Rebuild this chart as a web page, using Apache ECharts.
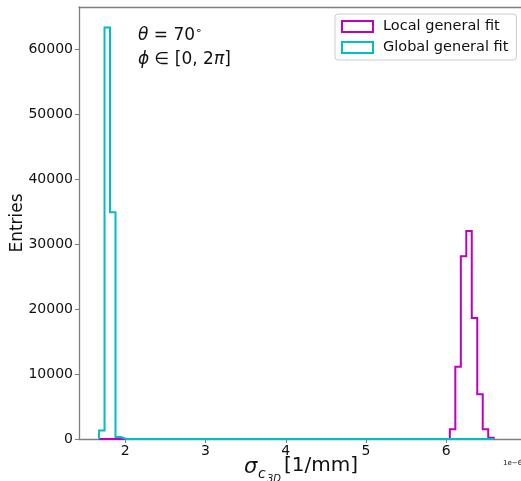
<!DOCTYPE html>
<html>
<head>
<meta charset="utf-8">
<script src="https://cdn.jsdelivr.net/npm/echarts@6/dist/echarts.min.js"></script>
<style>
  html, body { margin: 0; padding: 0; background: #ffffff; }
  #chart { width: 521px; height: 481px; }
</style>
</head>
<body>
<div id="chart"></div>
<script>
// Shared histogram binning (values in units of 1e-6 1/mm)
const binStart = 1.673;
const binWidth = 0.0683;

// Entries per bin, 72 bins
const localCounts = [
  0, 0, 0, 0, 0, 0, 0, 0, 0, 0, 0, 0, 0, 0, 0, 0, 0, 0, 0, 0, 0, 0, 0, 0,
  0, 0, 0, 0, 0, 0, 0, 0, 0, 0, 0, 0, 0, 0, 0, 0, 0, 0, 0, 0, 0, 0, 0, 0,
  0, 0, 0, 0, 0, 0, 0, 0, 0, 0, 0, 0, 0, 0, 0, 0,
  1500, 11100, 28100, 32000, 18600, 6900, 1500, 200
];
const globalCounts = [
  1300, 63300, 34900, 300, 0, 0, 0, 0, 0, 0, 0, 0, 0, 0, 0, 0, 0, 0, 0, 0, 0, 0, 0, 0,
  0, 0, 0, 0, 0, 0, 0, 0, 0, 0, 0, 0, 0, 0, 0, 0, 0, 0, 0, 0, 0, 0, 0, 0,
  0, 0, 0, 0, 0, 0, 0, 0, 0, 0, 0, 0, 0, 0, 0, 0,
  0, 0, 0, 0, 0, 0, 0, 0
];

const seriesNames = ['Local general fit', 'Global general fit'];
const seriesColors = ['#bf00bf', '#00bfbf'];

const xTicks = [2, 3, 4, 5, 6];
const yTicks = [0, 10000, 20000, 30000, 40000, 50000, 60000];

// Step outline of a histogram: up the left edge, across each bin, down the right edge
function stepOutline(counts) {
  const pts = [[binStart, 0]];
  counts.forEach((c, i) => {
    const x0 = binStart + i * binWidth;
    pts.push([x0, c], [x0 + binWidth, c]);
  });
  pts.push([binStart + counts.length * binWidth, 0]);
  return pts;
}

const FONT = 'DejaVu Sans';
const SPINE = '#808080';
const X_MIN = 1.4233, X_MAX = 6.9307;
const chart = echarts.init(document.getElementById('chart'), null, { renderer: 'canvas' });

chart.setOption({
  animation: false,
  backgroundColor: '#ffffff',
  grid: { left: 79, top: 7, width: 445, bottom: 42 },
  xAxis: [
    {
      type: 'value',
      min: X_MIN, max: X_MAX,
      splitLine: { show: false },
      axisLine: { show: true, onZero: false, lineStyle: { color: SPINE, width: 1.3 } },
      axisTick: { show: true, length: 4, customValues: xTicks, lineStyle: { color: SPINE } },
      axisLabel: {
        customValues: xTicks, color: '#111111', fontFamily: FONT, fontSize: 14, margin: 5,
        formatter: v => String(v)
      }
    },
    {
      // top spine only
      type: 'value', position: 'top',
      min: X_MIN, max: X_MAX,
      splitLine: { show: false },
      axisLine: { show: true, onZero: false, lineStyle: { color: SPINE, width: 1.3 } },
      axisTick: { show: false },
      axisLabel: { show: false }
    }
  ],
  yAxis: {
    type: 'value',
    min: 0, max: 66460,
    splitLine: { show: false },
    axisLine: { show: true, lineStyle: { color: SPINE, width: 1.3 } },
    axisTick: { show: true, length: 4, customValues: yTicks, lineStyle: { color: SPINE } },
    axisLabel: {
      customValues: yTicks, color: '#111111', fontFamily: FONT, fontSize: 14, margin: 6,
      formatter: v => String(v)
    }
  },
  legend: {
    left: 335, top: 14,
    orient: 'vertical',
    padding: [5, 8, 5, 6],
    itemGap: 6,
    itemWidth: 31, itemHeight: 11,
    itemTextGap: 10,
    borderColor: '#cccccc', borderWidth: 1, borderRadius: 3,
    backgroundColor: 'rgba(255,255,255,0.8)',
    textStyle: { fontFamily: FONT, fontSize: 14.5, color: '#111111', lineHeight: 15, padding: [0, 0, 0, 5] },
    data: seriesNames.map((n, i) => ({
      name: n,
      icon: 'rect',
      itemStyle: { color: 'rgba(0,0,0,0)', borderColor: seriesColors[i], borderWidth: 2 }
    }))
  },
  series: [localCounts, globalCounts].map((counts, i) => ({
    name: seriesNames[i],
    type: 'line',
    xAxisIndex: 0,
    data: stepOutline(counts),
    showSymbol: false,
    symbol: 'none',
    color: seriesColors[i],
    lineStyle: { color: seriesColors[i], width: 2, join: 'miter' },
    z: 2 + i
  })),
  graphic: [
    {
      type: 'text', left: 138, top: 26,
      style: {
        text: '{i|θ} = 70{s|∘}',
        fontFamily: FONT, fontSize: 17, fill: '#111111',
        rich: {
          i: { fontStyle: 'italic', fontFamily: FONT, fontSize: 17 },
          s: { fontFamily: FONT, fontSize: 11, verticalAlign: 'top', padding: [0, 0, 8, 0] }
        }
      }
    },
    {
      type: 'text', left: 138, top: 51,
      style: {
        text: '{i|ϕ} ∈ [0, 2{i|π}]',
        fontFamily: FONT, fontSize: 17, fill: '#111111',
        rich: { i: { fontStyle: 'italic', fontFamily: FONT, fontSize: 17 } }
      }
    },
    {
      type: 'text', x: 18, y: 223, rotation: Math.PI / 2,
      style: {
        text: 'Entries', fontFamily: FONT, fontSize: 17, fill: '#111111',
        align: 'center', verticalAlign: 'middle'
      }
    },
    {
      type: 'text', x: 244, y: 468,
      style: { text: 'σ', fontFamily: FONT, fontStyle: 'italic', fontSize: 21, fill: '#111111', align: 'left', verticalAlign: 'middle' }
    },
    {
      type: 'text', x: 258, y: 474,
      style: { text: 'c', fontFamily: FONT, fontStyle: 'italic', fontSize: 14, fill: '#111111', align: 'left', verticalAlign: 'middle' }
    },
    {
      type: 'text', x: 267, y: 479,
      style: { text: '3D', fontFamily: FONT, fontStyle: 'italic', fontSize: 10, fill: '#111111', align: 'left', verticalAlign: 'middle' }
    },
    {
      type: 'text', x: 284, y: 466,
      style: { text: '[1/mm]', fontFamily: FONT, fontSize: 20, fill: '#111111', align: 'left', verticalAlign: 'middle' }
    },
    {
      type: 'text', x: 503, y: 463,
      style: { text: '1e−6', fontFamily: FONT, fontSize: 7, fill: '#111111', align: 'left', verticalAlign: 'middle' }
    }
  ]
});
</script>
</body>
</html>
